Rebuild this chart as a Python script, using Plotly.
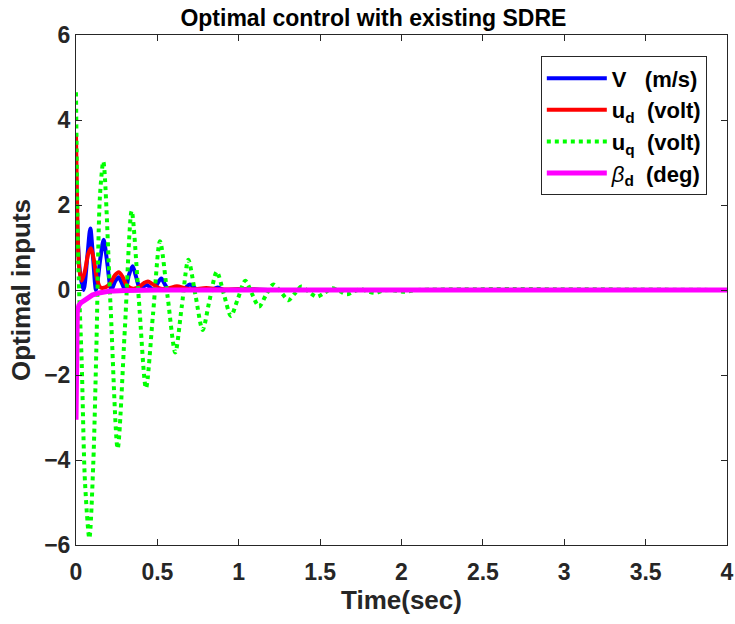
import plotly.graph_objects as go

# Time samples (s) and optimal inputs read for each signal
t_V = [0.0, 0.01, 0.025, 0.047, 0.07, 0.088, 0.105, 0.123, 0.15, 0.17, 0.19, 0.217,
       0.24, 0.262, 0.283, 0.303, 0.325, 0.348, 0.37, 0.395, 0.415, 0.436, 0.458,
       0.48, 0.50, 0.524, 0.548, 0.57, 0.61, 0.655, 0.70, 0.745, 0.79, 0.83, 0.87,
       0.91, 1.0, 1.2, 2.0, 4.0]
V = [2.8, 1.3, 0.4, 0.0, 0.8, 1.45, 0.75, 0.0, 0.75, 1.18, 0.7, 0.0,
     0.2, 0.3, 0.15, 0.0, 0.35, 0.56, 0.3, 0.0, 0.08, 0.12, 0.05,
     0.0, 0.15, 0.27, 0.12, 0.0, 0.04, 0.0, 0.13, 0.0, 0.02, 0.0, 0.06,
     0.0, 0.02, 0.0, 0.0, 0.0]

t_ud = [0.0, 0.006, 0.012, 0.02, 0.035, 0.055, 0.075, 0.092, 0.11, 0.13, 0.15, 0.18,
        0.21, 0.24, 0.262, 0.285, 0.31, 0.35, 0.39, 0.42, 0.442, 0.47, 0.52, 0.57,
        0.62, 0.67, 0.72, 0.8, 0.88, 1.0, 1.2, 4.0]
ud = [3.65, 2.2, 1.1, 0.5, 0.22, 0.45, 0.85, 0.98, 0.7, 0.25, 0.06, 0.06,
      0.15, 0.35, 0.42, 0.32, 0.12, 0.03, 0.08, 0.17, 0.2, 0.14, 0.03, 0.04,
      0.09, 0.04, 0.01, 0.05, 0.01, 0.02, 0.0, 0.0]

t_uq = [0.0, 0.014, 0.035, 0.055, 0.082, 0.106, 0.125, 0.147, 0.168, 0.212, 0.256,
        0.30, 0.342, 0.386, 0.430, 0.473, 0.516, 0.563, 0.610, 0.65, 0.690, 0.734,
        0.778, 0.82, 0.865, 0.908, 0.952, 0.995, 1.04, 1.08, 1.125, 1.17, 1.212,
        1.26, 1.305, 1.345, 1.385, 1.43, 1.479, 1.53, 1.575, 1.62, 1.665, 1.71,
        1.75, 1.79, 1.837, 1.88, 1.925, 1.97, 2.02, 2.1, 4.0]
uq = [4.65, 0.63, -1.7, -4.5, -5.84, -4.1, -1.4, 2.2, 3.02, -0.35, -3.73,
      -0.93, 1.86, -0.22, -2.31, -0.58, 1.15, -0.16, -1.47, -0.38, 0.71, -0.12,
      -0.94, -0.25, 0.43, -0.09, -0.61, -0.2, 0.22, -0.08, -0.39, -0.1, 0.13,
      -0.05, -0.24, -0.08, 0.08, -0.04, -0.16, -0.06, 0.04, -0.03, -0.1, -0.03,
      0.02, -0.03, -0.07, -0.02, 0.0, -0.02, -0.04, 0.0, 0.0]

t_beta = [0.0, 0.002, 0.008, 0.018, 0.03, 0.05, 0.07, 0.1, 0.14, 0.2, 0.3, 0.5, 4.0]
beta_d = [-3.05, -0.7, -0.5, -0.36, -0.3, -0.25, -0.19, -0.12, -0.07, -0.03, -0.01, 0.0, 0.0]

x_ticks = [0, 0.5, 1, 1.5, 2, 2.5, 3, 3.5, 4]
x_tick_text = ["0", "0.5", "1", "1.5", "2", "2.5", "3", "3.5", "4"]
y_ticks = [-6, -4, -2, 0, 2, 4, 6]

NB = "\u00a0"
FONT = "Arial, Liberation Sans, Helvetica, sans-serif"
AX = "#262626"

fig = go.Figure()
fig.add_trace(go.Scatter(x=t_V, y=V, mode="lines", line=dict(color="#0000FF", width=4, shape="spline", smoothing=0.8),
                         name="<b>V" + NB * 3 + "(m/s)</b>"))
fig.add_trace(go.Scatter(x=t_ud, y=ud, mode="lines", line=dict(color="#FF0000", width=4, shape="spline", smoothing=0.8),
                         name="<b>u<sub>d</sub>" + NB * 2 + "(volt)</b>"))
fig.add_trace(go.Scatter(x=t_uq, y=uq, mode="lines", line=dict(color="#00FF00", width=4, dash="dot", shape="spline", smoothing=0.8),
                         name="<b>u<sub>q</sub>" + NB * 2 + "(volt)</b>"))
fig.add_trace(go.Scatter(x=t_beta, y=beta_d, mode="lines", line=dict(color="#FF00FF", width=5),
                         name="<i>β</i><b><sub>d</sub>" + NB * 2 + "(deg)</b>"))

fig.update_layout(
    width=735, height=624,
    margin=dict(l=76, r=8, t=35, b=79, autoexpand=False),
    paper_bgcolor="white", plot_bgcolor="white",
    font=dict(family=FONT, color=AX),
    title=dict(text="<b>Optimal control with existing SDRE</b>", x=0.508, xanchor="center",
               y=0.972, yanchor="middle", font=dict(size=23, color="black", family=FONT)),
    legend=dict(x=0.714, y=0.958, xanchor="left", yanchor="top",
                bordercolor=AX, borderwidth=1, bgcolor="white",
                font=dict(size=22, color="black", family=FONT),
                itemwidth=60, tracegroupgap=0),
    showlegend=True,
)
fig.update_xaxes(range=[0, 4], tickvals=x_ticks, ticktext=x_tick_text,
                 ticks="inside", ticklen=6, tickcolor=AX, showline=True, linecolor=AX, linewidth=1,
                 mirror="ticks", showgrid=False, zeroline=False, ticklabelstandoff=6,
                 tickfont=dict(size=23, family=FONT, weight="bold", color=AX),
                 title=dict(text="<b>Time(sec)</b>", font=dict(size=26, family=FONT, color=AX), standoff=4))
fig.update_yaxes(range=[-6, 6], tickvals=y_ticks,
                 ticks="inside", ticklen=6, tickcolor=AX, showline=True, linecolor=AX, linewidth=1,
                 mirror="ticks", showgrid=False, zeroline=False,
                 tickfont=dict(size=23, family=FONT, weight="bold", color=AX),
                 title=dict(text="<b>Optimal inputs</b>", font=dict(size=26, family=FONT, color=AX), standoff=6))

fig.write_html("out.html")
